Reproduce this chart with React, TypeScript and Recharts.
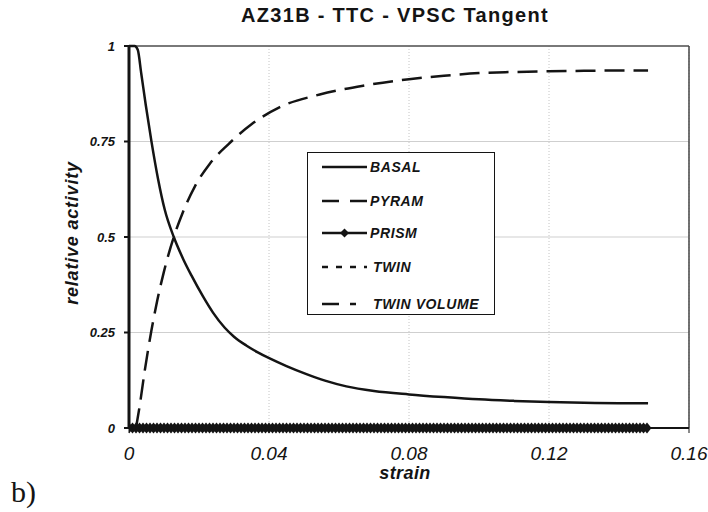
import { LineChart, Line, XAxis, YAxis, CartesianGrid, ReferenceLine } from "recharts"

// relative activity vs strain
const basalStrain = [0, 0.0016, 0.0025, 0.0035, 0.0048, 0.0064, 0.0083, 0.0102, 0.0128, 0.0155, 0.0178, 0.0211, 0.024, 0.0273, 0.03, 0.0335, 0.0368, 0.0402, 0.045, 0.0507, 0.056, 0.0621, 0.07, 0.08, 0.09, 0.1, 0.11, 0.12, 0.13, 0.14, 0.1483]
const basalValues = [1, 1, 0.99, 0.928, 0.845, 0.751, 0.652, 0.572, 0.5, 0.442, 0.4, 0.345, 0.302, 0.263, 0.239, 0.216, 0.198, 0.182, 0.162, 0.141, 0.124, 0.109, 0.097, 0.088, 0.081, 0.075, 0.071, 0.068, 0.066, 0.065, 0.065]

const twinVolStrain = [0.002, 0.003, 0.0045, 0.0064, 0.0081, 0.01, 0.0128, 0.0154, 0.0188, 0.0231, 0.0283, 0.035, 0.0431, 0.0545, 0.0669, 0.08, 0.09, 0.1, 0.11, 0.12, 0.13, 0.14, 0.1483]
const twinVolValues = [0, 0.055, 0.15, 0.255, 0.335, 0.41, 0.5, 0.565, 0.632, 0.692, 0.742, 0.795, 0.84, 0.873, 0.896, 0.913, 0.922, 0.929, 0.932, 0.934, 0.935, 0.936, 0.936]

const pyramStrain = [0, 0.148]
const pyramValues = [0, 0]
const twinStrain = [0, 0.148]
const twinValues = [0, 0]

// prism stays at zero; one marker per strain step (x 1e-3)
const prismStrainMilli = [0, 1, 2, 3, 4, 5, 6, 7, 8, 9, 10, 11, 12, 13, 14, 15, 16, 17, 18, 19, 20, 21, 22, 23, 24, 25, 26, 27, 28, 29, 30, 31, 32, 33, 34, 35, 36, 37, 38, 39, 40, 41, 42, 43, 44, 45, 46, 47, 48, 49, 50, 51, 52, 53, 54, 55, 56, 57, 58, 59, 60, 61, 62, 63, 64, 65, 66, 67, 68, 69, 70, 71, 72, 73, 74, 75, 76, 77, 78, 79, 80, 81, 82, 83, 84, 85, 86, 87, 88, 89, 90, 91, 92, 93, 94, 95, 96, 97, 98, 99, 100, 101, 102, 103, 104, 105, 106, 107, 108, 109, 110, 111, 112, 113, 114, 115, 116, 117, 118, 119, 120, 121, 122, 123, 124, 125, 126, 127, 128, 129, 130, 131, 132, 133, 134, 135, 136, 137, 138, 139, 140, 141, 142, 143, 144, 145, 146, 147, 148]

const xTicks = [0, 0.04, 0.08, 0.12, 0.16]
const yTicks = [0, 0.25, 0.5, 0.75, 1]

const toPoints = (xs: number[], ys: number[]) => xs.map((x, i) => ({ strain: x, value: ys[i] }))

const basalData = toPoints(basalStrain, basalValues)
const pyramData = toPoints(pyramStrain, pyramValues)
const prismData = prismStrainMilli.map((m) => ({ strain: m / 1000, value: 0 }))
const twinData = toPoints(twinStrain, twinValues)
const twinVolData = toPoints(twinVolStrain, twinVolValues)

const INK = "#141414"
const FONT = "'Liberation Sans', Arial, sans-serif"

const Diamond = (props: any) => {
  const { cx, cy, index } = props
  if (cx == null || cy == null) return <g key={`e-${index}`} />
  return (
    <path
      key={`d-${index}`}
      d={`M${cx - 4.5},${cy} L${cx},${cy - 5.5} L${cx + 4.5},${cy} L${cx},${cy + 5.5} Z`}
      fill={INK}
    />
  )
}

const YTick = ({ x, y, payload }: any) => (
  <text x={x} y={y} dy="0.36em" textAnchor="end" fontFamily={FONT} fontSize={13} fontWeight="bold" fontStyle="italic" fill={INK}>
    {String(payload.value)}
  </text>
)

const XTick = ({ x, y, payload }: any) => (
  <text x={x} y={y} dy="0.71em" textAnchor="middle" fontFamily={FONT} fontSize={19} fontStyle="italic" fill={INK}>
    {String(payload.value)}
  </text>
)

const legendItems = [
  { name: "BASAL", dash: undefined, marker: false, tx: 370 },
  { name: "PYRAM", dash: "17 11", marker: false, tx: 370 },
  { name: "PRISM", dash: undefined, marker: true, tx: 370 },
  { name: "TWIN", dash: "6 8", marker: false, tx: 373 },
  { name: "TWIN VOLUME", dash: "17 11 6 30", marker: false, tx: 373 },
]
const legendRowsY = [167, 201, 233, 267, 304]

export default function App() {
  return (
    <div style={{ position: "absolute", left: 0, top: 0, width: 708, height: 512, background: "#fff" }}>
      <LineChart width={708} height={512} margin={{ top: 46, right: 19, left: 0, bottom: 0 }}>
        <CartesianGrid horizontal vertical={false} stroke="#cfcfcf" />
        <CartesianGrid horizontal={false} vertical stroke="#c4c4c4" strokeDasharray="1 2" />
        <XAxis
          type="number"
          dataKey="strain"
          domain={[0, 0.16]}
          ticks={xTicks}
          allowDataOverflow
          height={84}
          tickSize={5}
          tickMargin={14}
          tick={<XTick />}
          axisLine={{ stroke: INK, strokeWidth: 2 }}
          tickLine={{ stroke: INK }}
        />
        <YAxis
          type="number"
          domain={[0, 1]}
          ticks={yTicks}
          width={129}
          tickSize={5}
          tickMargin={9}
          tick={<YTick />}
          axisLine={{ stroke: INK, strokeWidth: 3 }}
          tickLine={{ stroke: INK, strokeWidth: 2 }}
        />
        <ReferenceLine y={1} stroke="#555" strokeWidth={1.5} />
        <ReferenceLine x={0.16} stroke="#444" strokeWidth={1.5} />
        <Line data={basalData} dataKey="value" name="BASAL" type="monotone" stroke={INK} strokeWidth={2.5} dot={false} isAnimationActive={false} />
        <Line data={pyramData} dataKey="value" name="PYRAM" type="linear" stroke={INK} strokeWidth={2.5} strokeDasharray="17 11" dot={false} isAnimationActive={false} />
        <Line data={prismData} dataKey="value" name="PRISM" type="linear" stroke={INK} strokeWidth={2.5} dot={Diamond} isAnimationActive={false} />
        <Line data={twinData} dataKey="value" name="TWIN" type="linear" stroke={INK} strokeWidth={2.5} strokeDasharray="6 8" dot={false} isAnimationActive={false} />
        <Line data={twinVolData} dataKey="value" name="TWIN VOLUME" type="monotone" stroke={INK} strokeWidth={2.5} strokeDasharray="20 9" dot={false} isAnimationActive={false} />
      </LineChart>

      <svg width={708} height={512} style={{ position: "absolute", left: 0, top: 0, pointerEvents: "none" }}>
        <text x={395} y={22} textAnchor="middle" fontFamily={FONT} fontSize={20} fontWeight="bold" letterSpacing={1.3} fill={INK}>
          AZ31B - TTC - VPSC Tangent
        </text>
        <text
          x={72}
          y={233}
          transform="rotate(-90 72 233)"
          textAnchor="middle"
          dominantBaseline="central"
          fontFamily={FONT}
          fontSize={18}
          fontWeight="bold"
          fontStyle="italic"
          letterSpacing={0.8}
          fill={INK}
        >
          relative activity
        </text>
        <text x={405} y={479} textAnchor="middle" fontFamily={FONT} fontSize={18} fontWeight="bold" fontStyle="italic" letterSpacing={0.4} fill={INK}>
          strain
        </text>
        <text x={11} y={502} fontFamily="'Liberation Serif', serif" fontSize={30} fill={INK}>
          b)
        </text>

        <rect x={307.5} y={152.5} width={187} height={162} fill="#fff" stroke={INK} strokeWidth={1} />
        {legendItems.map((item, i) => {
          const y = legendRowsY[i]
          return (
            <g key={item.name}>
              <line x1={322} x2={367} y1={y} y2={y} stroke={INK} strokeWidth={2.5} strokeDasharray={item.dash} />
              {item.marker && <path d={`M${340},${y} L${344.5},${y - 4.5} L${349},${y} L${344.5},${y + 4.5} Z`} fill={INK} />}
              <text x={item.tx} y={y} dy="0.36em" fontFamily={FONT} fontSize={14} fontWeight="bold" fontStyle="italic" letterSpacing={0.6} fill={INK}>
                {item.name}
              </text>
            </g>
          )
        })}
      </svg>
    </div>
  )
}
